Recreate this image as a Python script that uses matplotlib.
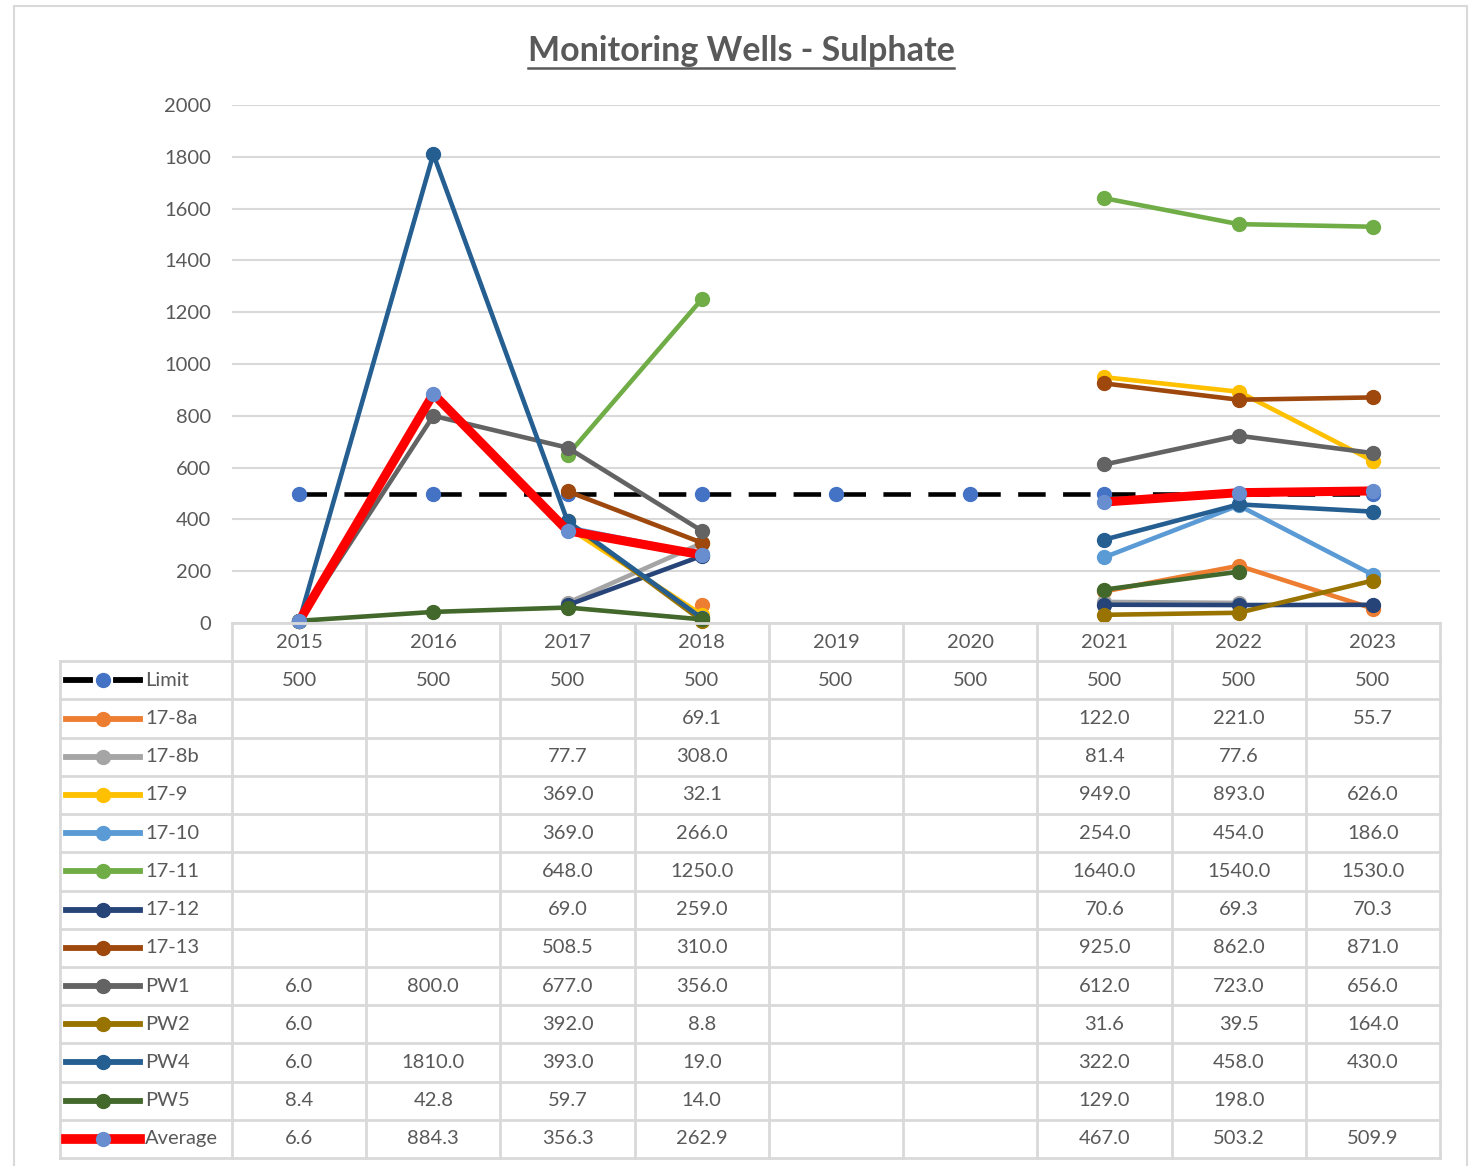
import numpy as np
import matplotlib
matplotlib.use("Agg")
import matplotlib.pyplot as plt
from matplotlib.lines import Line2D
from matplotlib.patches import Rectangle

plt.rcParams['font.family'] = ['Lato', 'DejaVu Sans']

nan = np.nan
years = ["2015", "2016", "2017", "2018", "2019", "2020", "2021", "2022", "2023"]

limit = [500, 500, 500, 500, 500, 500, 500, 500, 500]
w17_8a = [nan, nan, nan, 69.1, nan, nan, 122.0, 221.0, 55.7]
w17_8b = [nan, nan, 77.7, 308.0, nan, nan, 81.4, 77.6, nan]
w17_9 = [nan, nan, 369.0, 32.1, nan, nan, 949.0, 893.0, 626.0]
w17_10 = [nan, nan, 369.0, 266.0, nan, nan, 254.0, 454.0, 186.0]
w17_11 = [nan, nan, 648.0, 1250.0, nan, nan, 1640.0, 1540.0, 1530.0]
w17_12 = [nan, nan, 69.0, 259.0, nan, nan, 70.6, 69.3, 70.3]
w17_13 = [nan, nan, 508.5, 310.0, nan, nan, 925.0, 862.0, 871.0]
pw1 = [6.0, 800.0, 677.0, 356.0, nan, nan, 612.0, 723.0, 656.0]
pw2 = [6.0, nan, 392.0, 8.8, nan, nan, 31.6, 39.5, 164.0]
pw4 = [6.0, 1810.0, 393.0, 19.0, nan, nan, 322.0, 458.0, 430.0]
pw5 = [8.4, 42.8, 59.7, 14.0, nan, nan, 129.0, 198.0, nan]
average = [6.6, 884.3, 356.3, 262.9, nan, nan, 467.0, 503.2, 509.9]

names = ["17-8a", "17-8b", "17-9", "17-10", "17-11", "17-12", "17-13",
         "PW1", "PW2", "PW4", "PW5"]
wells = [w17_8a, w17_8b, w17_9, w17_10, w17_11, w17_12, w17_13, pw1, pw2, pw4, pw5]
colors = ["#ED7D31", "#A5A5A5", "#FFC000", "#5B9BD5", "#70AD47", "#264478",
          "#9E480E", "#636363", "#997300", "#255E91", "#43682B"]

W, H = 1470, 1166
grey = "#595959"
gridc = "#D9D9D9"
fs = 14.5
lw = 3.3
ms = 10

fig = plt.figure(figsize=(W / 100, H / 100), dpi=100)
fig.patches.append(Rectangle((14 / W, -0.01), 1453 / W, 1 - 6 / H + 0.01, transform=fig.transFigure,
                             fill=False, edgecolor=gridc, linewidth=1.5))


def px_axes(x0, y0, x1, y1):
    return fig.add_axes([x0 / W, 1 - y1 / H, (x1 - x0) / W, (y1 - y0) / H])


# main plot
ax = px_axes(232, 105, 1440, 623)
x = np.arange(len(years))
ax.set_xlim(-0.5, 8.5)
ax.set_ylim(0, 2000)
ax.set_yticks(np.arange(0, 2001, 200))
ax.yaxis.grid(True, color=gridc, linewidth=1.5)
ax.set_axisbelow(True)
ax.set_xticks([])
for s in ax.spines.values():
    s.set_visible(False)
ax.tick_params(axis='y', length=0, pad=15, labelsize=fs, labelcolor=grey)

ax.plot(x, limit, color="black", linestyle=(0, (6, 3.8)), linewidth=lw, marker='o',
        markersize=ms, markerfacecolor="#4472C4", markeredgecolor="#4472C4", clip_on=False)
for vals, c in zip(wells, colors):
    ax.plot(x, vals, color=c, linewidth=lw, marker='o', markersize=ms, clip_on=False)
ax.plot(x, average, color="#FF0000", linewidth=6.5, marker='o', markersize=ms,
        markerfacecolor="#698ED0", markeredgecolor="#698ED0", clip_on=False)

# data table
tb = px_axes(60, 623, 1440, 1158)
unit = 1208 / 9
left = -0.5 - 172 / unit
tb.set_xlim(left, 8.5)
tb.set_ylim(14, 0)
tb.axis('off')

tb.plot([-0.5, 8.5], [0, 0], color=gridc, linewidth=2, clip_on=False)
for r in range(1, 15):
    tb.plot([left, 8.5], [r, r], color=gridc, linewidth=2, clip_on=False)
for k in range(10):
    tb.plot([-0.5 + k, -0.5 + k], [0, 14], color=gridc, linewidth=2, clip_on=False)
tb.plot([left, left], [1, 14], color=gridc, linewidth=2, clip_on=False)

for i, yr in enumerate(years):
    tb.text(i, 0.5, yr, ha='center', va='center', fontsize=fs, color=grey)

rows = [("Limit", limit, "{:.0f}")] + [(n, v, "{:.1f}") for n, v in zip(names, wells)] + \
       [("Average", average, "{:.1f}")]
row_colors = ["black"] + colors + ["#FF0000"]
mk_colors = ["#4472C4"] + colors + ["#698ED0"]
sx0 = left + 6 / unit
sx1 = left + 80 / unit
slw = 4.2
for r, ((label, vals, fmt), c, mc) in enumerate(zip(rows, row_colors, mk_colors)):
    yc = r + 1.5
    if label == "Limit":
        tb.plot([sx0, sx0 + 24 / unit], [yc, yc], color=c, linewidth=slw, clip_on=False)
        tb.plot([sx1 - 24 / unit, sx1], [yc, yc], color=c, linewidth=slw, clip_on=False)
    else:
        tb.plot([sx0, sx1], [yc, yc], color=c, linewidth=7 if label == "Average" else slw,
                clip_on=False)
    tb.plot([(sx0 + sx1) / 2], [yc], marker='o', markersize=ms, color=mc, clip_on=False)
    tb.text(sx1 + 5 / unit, yc, label, ha='left', va='center', fontsize=fs, color=grey)
    for i, v in enumerate(vals):
        if not np.isnan(v):
            tb.text(i, yc, fmt.format(v), ha='center', va='center', fontsize=fs, color=grey)

# title with underline
t = fig.text(741 / W, 1 - 51 / H, "Monitoring Wells - Sulphate", ha='center', va='center',
             fontsize=24.5, fontweight='bold', color=grey)
fig.canvas.draw()
bb = t.get_window_extent()
uy = bb.y0 - 1
fig.add_artist(Line2D([bb.x0 / W, bb.x1 / W], [uy / H, uy / H], transform=fig.transFigure,
                      color=grey, linewidth=1.8))

fig.savefig("out.png", dpi=100)
